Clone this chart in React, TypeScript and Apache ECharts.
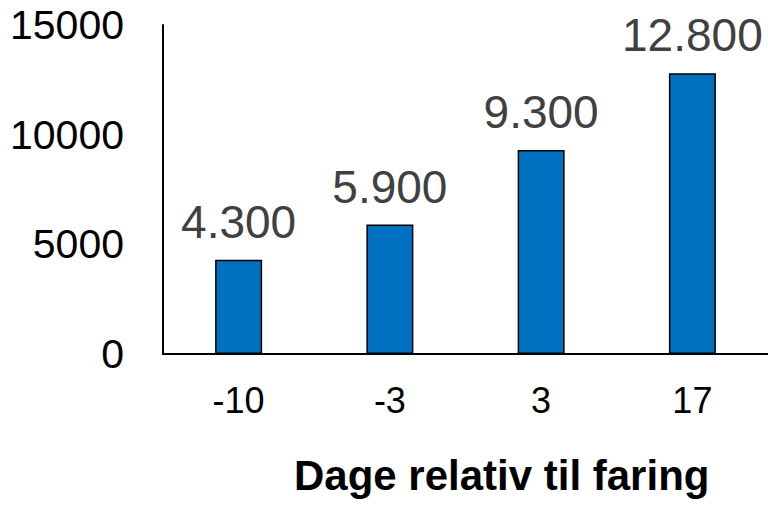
import React, { useEffect, useRef } from "react";
import * as echarts from "echarts";

const categories = ["-10", "-3", "3", "17"];
const values = [4300, 5900, 9300, 12800];
const yTicks = { min: 0, max: 15000, interval: 5000 };
const xAxisTitle = "Dage relativ til faring";

const fmt = (v: number) => String(v).replace(/\B(?=(\d{3})+(?!\d))/g, ".");

export default function App() {
  const ref = useRef<HTMLDivElement>(null);
  useEffect(() => {
    document.body.style.margin = "0";
    const chart = echarts.init(ref.current!, null, { renderer: "svg" });
    const font = "'Liberation Sans', Arial, sans-serif";
    chart.setOption({
      animation: false,
      backgroundColor: "#ffffff",
      grid: { left: 163, right: 0, top: 25, bottom: 153, containLabel: false },
      xAxis: {
        type: "category",
        data: categories,
        axisTick: { show: false },
        axisLine: { show: true, lineStyle: { color: "#000000", width: 2 } },
        axisLabel: { color: "#000000", fontSize: 36, fontFamily: font, margin: 28 },
      },
      yAxis: {
        type: "value",
        min: yTicks.min,
        max: yTicks.max,
        interval: yTicks.interval,
        splitLine: { show: false },
        axisTick: { show: false },
        axisLine: { show: true, lineStyle: { color: "#000000", width: 2 } },
        axisLabel: {
          color: "#000000",
          fontSize: 41,
          fontFamily: font,
          margin: 39,
          formatter: (v: number) => String(v),
        },
      },
      graphic: [
        {
          type: "text",
          left: 294,
          top: 454,
          style: {
            text: xAxisTitle,
            fontSize: 42,
            fontWeight: "bold",
            fontFamily: font,
            fill: "#000000",
          },
        },
      ],
      series: [
        {
          type: "bar",
          data: values,
          barWidth: 47,
          itemStyle: { color: "#0070C0", borderColor: "#000000", borderWidth: 1.5 },
          label: {
            show: true,
            position: "top",
            distance: 15,
            color: "#404040",
            fontSize: 46,
            fontFamily: font,
            formatter: (p: any) => fmt(p.value),
          },
        },
      ],
    });
    return () => chart.dispose();
  }, []);
  return (
    <div
      ref={ref}
      style={{ position: "fixed", left: 0, top: 0, width: 768, height: 507 }}
    />
  );
}
